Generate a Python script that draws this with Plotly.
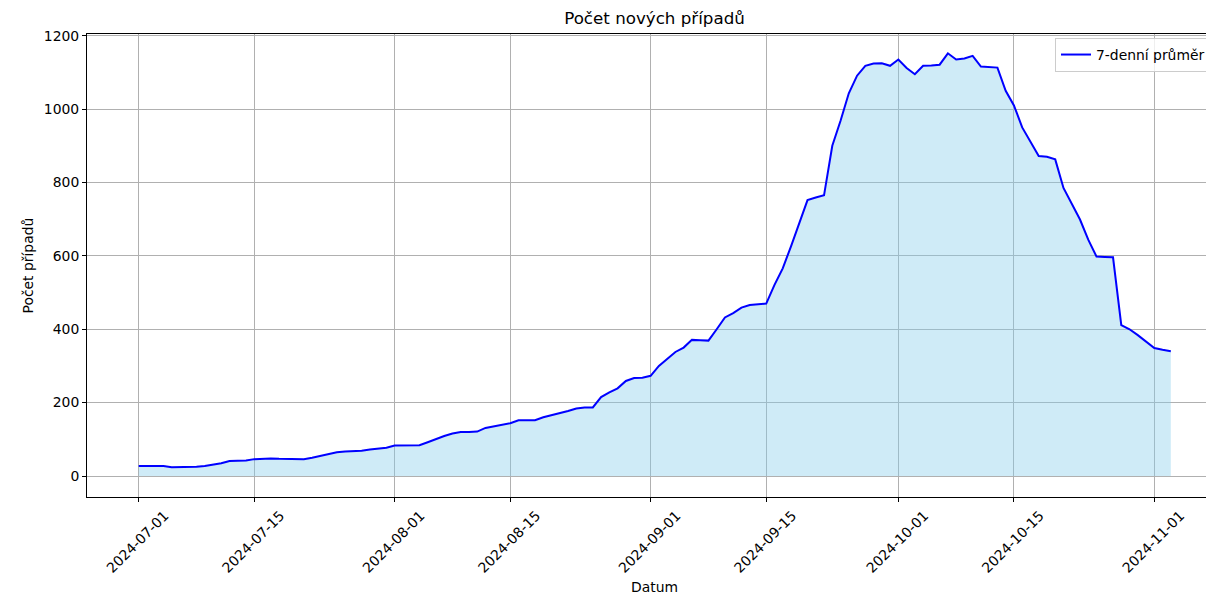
import plotly.graph_objects as go
import pandas as pd

# ---- data ----
start_date = "2024-07-01"
avg_7day = [
    27, 27, 28, 27, 24, 24, 24, 25, 27, 30,
    35, 41, 41, 42, 46, 48, 48, 47, 46, 46,
    46, 50, 55, 60, 65, 67, 67, 69, 72, 74,
    77, 83, 83, 83, 84, 92, 101, 109, 116, 120,
    120, 121, 131, 136, 139, 144, 152, 151, 152, 160,
    165, 172, 177, 184, 187, 187, 215, 228, 239, 259,
    267, 268, 273, 300, 320, 338, 350, 371, 370, 369,
    400, 432, 444, 459, 466, 468, 470, 521, 566, 626,
    688, 752, 759, 765, 900, 968, 1043, 1091, 1118, 1124,
    1125, 1118, 1135, 1112, 1095, 1118, 1119, 1121, 1152, 1135,
    1138, 1145, 1116, 1114, 1113, 1050, 1010, 950, 913, 872,
    870, 863, 785, 740, 699, 644, 598, 597, 596, 411,
    400, 384, 367, 349, 344, 340,
]
dates = pd.date_range(start_date, periods=len(avg_7day), freq="D")

x_tick_labels = ["2024-07-01", "2024-07-15", "2024-08-01", "2024-08-15", "2024-09-01",
                 "2024-09-15", "2024-10-01", "2024-10-15", "2024-11-01"]
y_ticks = [0, 200, 400, 600, 800, 1000, 1200]

title_text = "Počet nových případů"
x_title = "Datum"
y_title = "Počet případů"
legend_name = "7-denní průměr"

FONT = "DejaVu Sans"
OFF = 8  # page body margin
W, H = 1214 - OFF, 595 - OFF
ML, MR, MT, MB = 87 - OFF, 0, 34 - OFF, 98
PW, PH = W - ML - MR, H - MT - MB

fig = go.Figure()
fig.add_trace(go.Scatter(
    x=dates, y=avg_7day, mode="lines", fill="tozeroy",
    line=dict(width=0, color="rgba(135,206,235,0.4)"),
    fillcolor="rgba(135,206,235,0.4)", showlegend=False, hoverinfo="skip",
))
fig.add_trace(go.Scatter(
    x=dates, y=avg_7day, mode="lines", name=legend_name,
    line=dict(color="#0000ff", width=2),
))

fig.update_layout(
    width=W, height=H,
    margin=dict(l=ML, r=MR, t=MT, b=MB),
    paper_bgcolor="white", plot_bgcolor="white",
    font=dict(family=FONT, size=13.9, color="black"),
    title=dict(text=title_text, font=dict(size=16.7, family=FONT, color="black"),
               x=(654.5 - OFF) / W, xanchor="center", xref="container",
               y=1 - (18.5 - OFF) / H, yanchor="middle", yref="container"),
    showlegend=True,
    legend=dict(x=(1211 - 87) / PW, xanchor="right",
                y=(497 - 38) / PH, yanchor="top",
                bgcolor="rgba(255,255,255,0.8)", bordercolor="#cccccc", borderwidth=1,
                font=dict(size=13.9, family=FONT, color="black")),
)

fig.update_xaxes(
    type="date",
    range=["2024-06-24 17:44", "2024-11-08 05:30"],
    tickvals=x_tick_labels, ticktext=x_tick_labels,
    tickangle=-45, ticklabelshift=26,
    ticks="outside", ticklen=4, tickcolor="black", tickwidth=1,
    showline=True, linecolor="black", linewidth=1, mirror=True,
    showgrid=True, gridcolor="#b0b0b0", gridwidth=0.8,
    zeroline=False,
    tickfont=dict(size=13.9, family=FONT, color="black"),
)
fig.update_yaxes(
    range=[-57.2, 1204.6],
    tickvals=y_ticks,
    ticks="outside", ticklen=4, tickcolor="black", tickwidth=1,
    showline=True, linecolor="black", linewidth=1,
    showgrid=True, gridcolor="#b0b0b0", gridwidth=0.8,
    zeroline=False,
    tickfont=dict(size=13.9, family=FONT, color="black"),
)

fig.add_annotation(text=x_title, xref="paper", yref="paper",
                   x=(654.5 - 87) / PW, y=(497 - 587) / PH,
                   xanchor="center", yanchor="middle", showarrow=False,
                   font=dict(size=13.9, family=FONT, color="black"))
fig.add_annotation(text=y_title, xref="paper", yref="paper",
                   x=(27 - 87) / PW, y=0.5, textangle=-90,
                   xanchor="center", yanchor="middle", showarrow=False,
                   font=dict(size=13.9, family=FONT, color="black"))

fig.write_html("out.html")
